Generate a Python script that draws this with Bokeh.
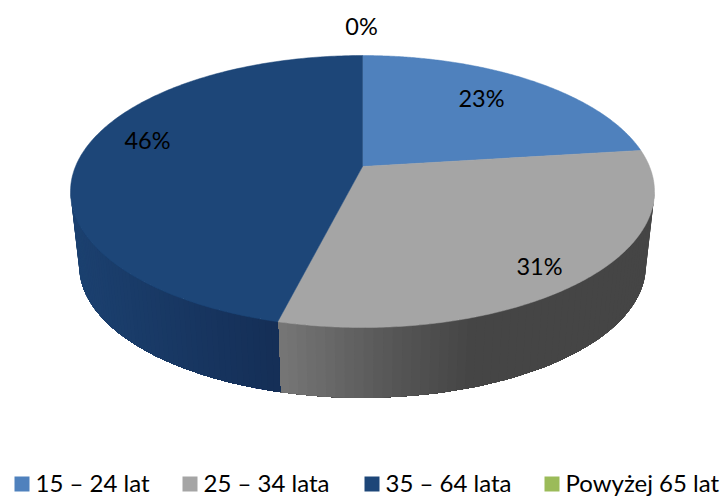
import numpy as np
from bokeh.plotting import figure
from bokeh.models import Range1d
from bokeh.core.properties import value
from bokeh.embed import file_html
from bokeh.resources import INLINE

categories = ["15 – 24 lat", "25 – 34 lata", "35 – 64 lata", "Powyżej 65 lat"]
shares = [23, 30.9, 46.1, 0]
labels = ["23%", "31%", "46%", "0%"]
top_colors = ["#4F81BD", "#A5A5A5", "#1D4678", "#9BBB59"]
FONT = "Lato"

W, H = 726, 497
p = figure(width=W, height=H, output_backend="svg", toolbar_location=None,
           x_range=Range1d(0, W), y_range=Range1d(H, 0), min_border=0)
p.axis.visible = False
p.grid.visible = False
p.outline_line_color = None
p.background_fill_color = "white"


def project(theta, cx, cy, a, b, k=0.184):
    w = 1 + k * np.cos(theta)
    return cx + a * np.sin(theta) / w, cy - b * np.cos(theta) / w


def top(theta):
    return project(theta, 362, 166, 287, 131.4)


def bottom(theta):
    return project(theta, 362, 241, 278.5, 127.5)


edges = 2 * np.pi * np.cumsum([0] + shares) / sum(shares)
limit = np.arccos(-0.184)

split = edges[2]
grey_stops = ([278, 400, 480, 660], [0x78, 0x56, 0x45, 0x45])
blue_stops = ([70, 270], [(0x1C, 0x41, 0x70), (0x15, 0x2F, 0x57)])


def side_color(x, is_grey):
    if is_grey:
        g = int(np.interp(x, *grey_stops))
        return f"#{g:02x}{g:02x}{g:02x}"
    c = [int(np.interp(x, blue_stops[0], [s[i] for s in blue_stops[1]])) for i in range(3)]
    return "#%02x%02x%02x" % tuple(c)


# wall strips painted inward from the outer edge, each overlapping the next so no seams appear
for a0, a1, is_grey in [(limit, split, True), (2 * np.pi - limit, split, False)]:
    t = np.linspace(a0, a1, 60)
    xt, yt = top(t)
    xb, yb = bottom(t)
    for i in range(len(t) - 1):
        col = side_color(xt[i], is_grey)
        p.patch(np.concatenate([xt[i:], xb[i:][::-1]]),
                np.concatenate([yt[i:], yb[i:][::-1]]),
                fill_color=col, line_color=None)

for i, share in enumerate(shares):
    if share == 0:
        continue
    t = np.linspace(edges[i], edges[i + 1], 200)
    x, y = top(t)
    p.patch(np.concatenate([[362], x]), np.concatenate([[166], y]),
            fill_color=top_colors[i], line_color=top_colors[i], line_width=0.5)

lx = [481, 539, 147, 361]
ly = [97, 265, 139, 25]
p.text(lx, ly, text=labels, text_font=value(FONT), text_font_size="23.5px", text_color="#000000",
       text_align="center", text_baseline="middle")

sq_x = [21.5, 189.5, 371.5, 551.5]
text_x = [35, 203, 385, 565]
p.rect(sq_x, [483.5] * 4, width=15, height=15, fill_color=top_colors, line_color=None)
p.text(text_x, [482] * 4, text=categories, text_font=value(FONT), text_font_size="24px",
       text_color="#000000", text_align="left", text_baseline="middle")

open("out.html", "w").write(file_html(p, INLINE))
